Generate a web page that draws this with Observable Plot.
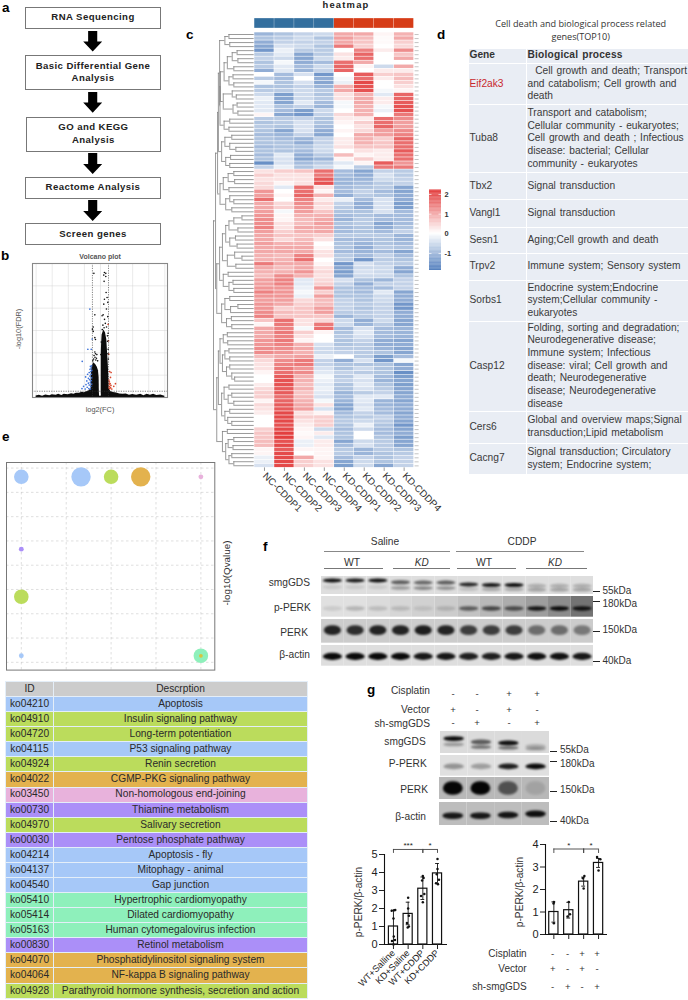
<!DOCTYPE html>
<html><head><meta charset="utf-8">
<script src="https://cdn.jsdelivr.net/npm/d3@7"></script>
<script src="https://cdn.jsdelivr.net/npm/@observablehq/plot@0.6"></script>
<style>
html,body{margin:0;padding:0;background:#fff}
#page{position:relative;width:688px;height:1000px;overflow:hidden;font-family:"Liberation Sans",Arial,sans-serif;color:#222}
#page>*{position:absolute}
.lbl{white-space:nowrap;line-height:1}
.box{box-sizing:border-box;border:1px solid #777;background:#fff;display:flex;align-items:center;justify-content:center;text-align:center;font-weight:bold;font-size:9.6px;line-height:12.7px;letter-spacing:.42px;color:#222}
.arrow{width:19px;height:21px;background:#000;clip-path:polygon(26% 0,74% 0,74% 52%,100% 52%,50% 100%,0 52%,26% 52%)}
table{border-collapse:collapse;table-layout:fixed}
#tabE td,#tabE th{padding:0;height:15.08px;font-size:10.2px;font-weight:normal;text-align:center;white-space:nowrap;border:1px solid #e4eef8;line-height:1;color:#2a2a2a;box-sizing:border-box}
#tabD td,#tabD th{padding:0 0 0 .5px;font-size:10.2px;line-height:12.7px;text-align:left;background:#e9edf4;border:1px solid #fff;word-spacing:1px;color:#3a3a3a;box-sizing:border-box}
svg.plot,svg[class^="plot"]{background:transparent!important;overflow:visible}
</style></head><body><div id="page"></div>
<script>
// ---------- panel a ----------
const flowSteps = ["RNA Sequencing","Basic Differential Gene<br>Analysis","GO and KEGG<br>Analysis","Reactome Analysis","Screen genes"];

// ---------- panel b : volcano ----------
const volcanoBase = [[-8,.35],[-7.6,.5],[-7.2,.3],[-6.8,.55],[-6.3,.4],[-6,.6],[-5.5,.5],[-5.2,.7],[-4.8,.45],[-4.5,.75],[-4,.6],[-3.6,.85],[-3.3,.7],[-3,.95],[-2.6,.95],[-2.3,1.15],[-2,1.05],[-1.7,1.3],[-1.4,1.5],[-1.2,1.9],[-.2,1],[-.1,.35],[0,.2],[.1,.35],[.2,1],[1.1,1.9],[1.3,1.3],[1.6,1.1],[2,1],[2.4,.8],[2.8,.7],[3.2,.8],[3.6,.5],[4,.65],[4.5,.5],[5,.7],[5.4,.4],[5.8,.7],[6.2,.5],[6.6,.7],[7,.45],[7.5,.55],[8,.3]];
const volcanoLeftLobe = [[-1.17,1.5],[-1.15,5],[-1.05,6.8],[-.85,7.8],[-.6,7.4],[-.4,6.8],[-.25,6],[-.17,4.5],[-.14,1]];
const volcanoRightLobe = [[.1,1],[.1,9],[.14,12],[.2,14],[.41,15.1],[.62,14.5],[.78,13],[.88,10],[.98,7],[1.05,4],[1.08,1.5]];
const volcanoBlack = [[-.82,27.8],[.49,28],[.66,27.8],[.41,27.4],[.66,27.1],[.45,26],[.7,23.5],[.82,22.4],[.49,22],[.91,21.3],[.41,20.9],[.74,19.8],[.33,18.5],[.91,18.1],[.2,18.3],[.5,17.5],[.6,16.6],[.3,16.2],[.75,15.8],[.45,15.6],[-.9,15.8],[-1,15.3],[-.9,14.8],[-.7,13.4],[-.62,13],[-.7,18.5],[-.7,10.2],[-.62,9.8],[-.8,9.4],[-.45,9.6],[-.68,9],[-.5,8.8],[-.85,8.6],[-.35,8.2],[-.58,8.4],[-.95,8.2],[.88,12.6],[.95,10.8],[.92,9.8],[.98,8.6],[.86,13.8],[.22,15.2],[.95,14.4],[.1,12.4],[.05,9.6]];
const volcanoBlue = [[-1.32,19.8],[-1.03,13.1],[-1.57,10.8],[-1.15,10.8],[-2.27,8.1],[-1.25,7],[-1.1,7.1],[-1.18,6.6],[-1.3,6.3],[-1.08,6.1],[-1.2,5.8],[-1.4,5.6],[-1.85,4.6],[-1.6,5.2],[-1.15,5.2],[-1.3,4.8],[-1.5,4.3],[-1.1,4.4],[-1.35,4],[-1.7,3.7],[-1.15,3.8],[-1.25,3.4],[-1.5,3.2],[-1.1,3],[-1.8,2.9],[-1.4,2.8],[-2.1,2.5],[-1.2,2.5],[-1.65,2.3],[-2.3,2],[-1.45,2],[-1.9,1.9],[-1.25,1.9]];
const volcanoRed = [[.95,16.4],[1,12.7],[1.03,9.7],[1.15,5.8],[1.32,5.6],[1.24,4.5],[1.86,3.1],[1.65,2.5],[1.05,3.9],[1.1,3.5],[1.2,3.1],[1.08,3],[1.3,2.7],[1.1,2.5],[1.25,2.2],[1.15,2],[1.05,2.1],[1.4,1.9]];

// ---------- panel c : heatmap ----------
const heatColumns = ["NC-CDDP1","NC-CDDP2","NC-CDDP3","NC-CDDP4","KD-CDDP1","KD-CDDP2","KD-CDDP3","KD-CDDP4"];
const heatRows = [
[-1,-.8,-.6,-.5,.9,.9,.1,.8],[-.8,-.7,-.5,-.8,1,.7,.05,.9],[-1.1,-.6,-.6,-.6,.9,.6,.05,.5],[-1.2,-.4,-.5,-.8,1.4,.5,0,.4],
[-1.4,-.2,-.7,-.7,0,1.3,.2,1.2],[-.7,-.3,-1.2,-.7,.3,1.6,0,.6],[-.6,-.5,-1.2,-.5,.2,1.5,0,.9],[-.8,-.1,-1.1,-.9,1.5,.9,0,0],
[-.7,-.3,-.9,-.5,1.6,.1,-.5,.9],[-1.1,-.3,-1,-.6,1.6,0,.2,.2],[0,-.9,-.4,-1.4,0,1.7,.5,.6],[-.7,-.9,0,-1.1,-.1,1.5,.2,.7],
[-.1,-.8,-.4,-1.2,-.2,1.9,0,.5],[-.8,-.8,-.6,-1,.8,1.8,0,.3],[-.7,-.7,-.5,-.7,.9,1.8,-.1,.1],[-.5,-1.3,-.5,-.8,.3,.8,-.3,1.6],
[-.2,-1.2,-.5,-.7,.3,.9,.2,1.6],[-.3,-1.2,-.3,-.9,-.1,.9,.2,1.7],[-.3,-.8,-.6,-1,-.1,.8,-.1,1.8],[-.3,-.9,-1.3,-.5,0,.8,-.2,1.8],
[.1,-1.2,-1.4,-.6,.4,.8,0,1.4],[-.7,-.7,-.6,-.8,.2,.2,1.5,1.2],[-.8,-.7,-.4,-.8,.1,.5,1.5,1],[-.7,-.8,-.4,-.9,0,.3,1.6,1],
[-.8,-1.2,-.4,-1.1,.1,.4,1,1.2],[-.9,-1,-.6,-1.2,0,.9,1,1.3],[-.8,-.9,-1,-.6,.2,.8,.5,1.6],[-.8,-.8,-1.1,-.6,.2,.8,.6,1.5],
[-.9,-.8,-.8,-.5,.3,.6,.6,1.5],[-.8,-.8,-.9,-.5,0,.3,.2,1.7],[-.9,-.3,-1.1,-.7,.7,.1,.2,1.5],[-.8,-.4,-1.2,-1,.1,.5,.2,1.5],
[-1.5,-.4,-.9,-.7,-.3,.1,1.7,1.1],[-.6,-.2,-.8,-.5,-.1,-.7,1.4,1.4],[.3,.5,.6,1.5,-.9,-1.2,-.6,-.7],[.5,.3,.3,1.4,-.9,-1.1,-.4,-.7],
[.3,.3,.3,1.7,-1,-1,-.5,-.6],[.4,.1,.3,1.8,-1,-.9,-.7,-.6],[.4,-.3,1.5,.3,-.9,-.8,-.7,-1.2],[1.1,0,1.5,.1,-.9,-.6,-.9,-1.2],
[1,.1,1.6,.8,-1.1,-.7,-.8,-1.1],[1.5,0,1.3,.2,-.2,-.9,-.4,-1.1],[.9,.4,1.2,.4,-.6,-1.1,-.4,-1.3],[.9,.5,1.1,.3,-.7,-1.1,-.4,-1.3],
[1,-.1,1,.6,-.8,-.8,-.4,-.9],[1.1,.1,.8,.8,-.9,-.8,-.9,-.9],[1.2,.1,.7,.9,-1,-.7,-.9,-.9],[1.2,.3,.7,1,-.8,-.7,-1.2,-.9],
[1.3,.3,.9,.9,-.9,-.8,-1.1,-.8],[1,.5,.8,.9,-.9,-.8,-.9,-.6],[.9,.6,.6,.5,-.7,-.7,-.7,-1],[.9,.4,.7,.3,-.9,-.9,-.8,-1],
[1,.8,.8,0,-.8,-1,-.8,-.9],[.9,.9,.9,.1,-.8,-1.1,-.7,-.8],[.9,.9,.9,.3,-.9,-1,-.9,-1.2],[.8,.7,1.3,.3,-.7,-.9,-.6,-.9],
[.8,.8,1.5,0,-.7,-1.4,-.7,-.8],[1.4,.9,.9,.1,-1.4,-.4,-.6,-.7],[.9,.7,.9,.3,-1.2,-.5,-.5,-1.1],[.8,.8,1.1,.4,-1.3,-.4,-.5,-1.2],
[.7,1.2,.8,.3,-1.2,-.5,-.5,-.8],[1,1.3,-.3,.4,-.4,-.8,-1,-.6],[1,1.3,-.3,.5,-.6,-1.1,-.6,-.6],[1.1,1.1,-.2,1.1,-.8,-.9,-.9,-.6],
[1.3,1.1,-.1,.5,-.8,-.9,-.3,-1.2],[1.1,1.1,-.2,1,-.8,-.8,-.5,-1.1],[1,1,.4,.7,-.6,-.8,-.5,-1.1],[1.1,.9,.5,.7,-.6,-.7,-.6,-1.4],
[1.1,.5,.6,1,-.6,-.8,-.6,-1.4],[1.2,.7,.6,1,-.7,-.7,-.6,-1.1],[1.3,.6,.6,.6,-1,-.7,-.6,-1.1],[.6,1.5,.3,.4,-.5,-1.1,-.5,-1.2],
[.1,1.4,.3,1.4,-.5,-1,-.7,-1.2],[.9,1.3,-.1,1.5,-.9,-.4,-.9,-1],[.9,1.4,.5,.1,-.8,-.3,-.9,-1],[.9,1.3,.3,0,-.7,-.4,-.9,-1],
[1.1,1.4,.1,0,-.8,-.6,-1.1,-1.2],[1.1,1.3,.8,-.4,-.8,-.7,-1.1,-1.1],[1.2,1.2,.9,-.5,-.7,-.7,-1,-1.2],[1.2,1.1,.8,-.5,-.6,-.7,-.8,-1.2],
[.7,.9,1,-.2,0,-.7,-1.3,-.9],[.4,1.2,1.4,-.6,-1.1,-.4,-1.4,-.1],[.3,1.3,1.4,-.6,-.8,-.8,-.8,-1.2],[.3,1.4,1.1,-.4,-.8,-.5,-.8,-1.1],
[.1,1.5,1.2,-.3,-.6,-.7,-.8,-1.5],[0,1.7,.8,-.1,-.7,-.3,-.9,-1.3],[0,1.8,.8,-.2,-.6,-.4,-1,-1.2],[.2,1.8,.7,-.3,-.8,-.3,-.8,-1.3],
[.4,1.7,.8,-.2,-.8,-.4,-.7,-1.2],[.5,1.7,.6,-.3,-1,-.7,-.6,-1.2],[.5,1.5,.7,-.4,-.9,-.3,-.3,-1.1],[.1,1.6,.8,-.1,-1,-.3,-1,-1.2],
[.4,1.7,.9,.3,-1.2,-.4,-1,-1.1],[.3,1.7,1,-.4,-1.2,-.3,-.9,-1.1],[.2,1.9,.3,.1,-.9,-.6,-.9,-1.2],[0,1.9,.5,.5,-.8,-.7,-.6,-1.1],
[0,1.9,.3,.5,-.7,-.5,-.7,-1.2],[0,1.8,.2,.5,-.8,-.2,-.8,-1.4],[.5,1.9,.1,-.5,-.9,-.5,-.9,-1.2],[.6,2,.05,.2,-.8,0,-.9,-1.1],
[.6,2,.1,-.3,-.8,0,-.8,-1.3],[.7,1.8,-.2,.2,-1.2,-.5,-.7,-1.2],[.7,1.9,-.2,.2,-.9,-.4,-.7,-1.2],[.1,1.7,.1,.1,-.7,-1,-.7,-.8],
[.1,1.9,0,.1,-.7,-1,-.8,-.7],[-.2,1.9,.9,.1,-.9,-.6,-.8,-.6],[-.2,1.9,.5,.3,-1.2,-.5,-.8,-.6],[-.4,1.9,.5,.3,-1.3,-.5,-1.2,-.6]];
// dendrogram: [merge height, left, right]; 0 is a leaf
const rowTree = [1,
 [.92,
  [.78,[.7,[.62,[.5,0,0],[.55,0,0]],[.64,[.52,0,0],[.5,0,0]]],[.66,0,0]],
  [.88,
   [.8,[.72,[.65,[.55,0,0],0],[.6,0,0]],[.74,[.64,[.5,0,0],[.55,0,0]],[.62,0,0]]],
   [.84,[.78,[.68,[.55,[.48,0,0],0],[.6,0,0]],[.72,[.6,0,0],[.62,0,0]]],[.76,[.65,0,0],[.66,0,0]]]]],
 [.95,
  [.92,
   [.8,[.68,[.55,0,0],[.56,0,0]],[.72,[.58,0,[.4,0,0]],[.6,0,0]]],
   [.85,
    [.76,[.62,[.5,0,0],[.52,0,0]],[.64,0,0]],
    [.78,[.66,[.45,0,0],[.48,[.3,0,0],0]],[.7,[.6,[.42,0,0],[.46,0,0]],[.62,[.4,0,0],[.5,0,[.3,0,0]]]]]]],
  [.9,
   [.84,[.7,[.55,0,0],[.6,[.5,0,0],0]],[.76,[.62,0,0],[.64,[.48,0,0],[.5,0,0]]]],
   [.88,
    [.8,[.7,[.6,0,0],[.58,0,0]],[.72,[.6,[.45,0,0],0],[.55,0,0]]],
    [.85,
     [.84,[.74,[.62,0,0],[.6,0,0]],
      [.83,[.76,[.52,[.4,0,0],[.42,0,0]],[.54,[.44,0,0],0]],
       [.74,[.62,[.5,0,0],[.52,0,0]],[.66,[.5,0,0],[.54,[.4,0,0],[.42,0,0]]]]]],
     [.72,[.6,0,0],[.62,0,0]]]]]]];

// ---------- panel d ----------
const geneNames = ["Eif2ak3","Tuba8","Tbx2","Vangl1","Sesn1","Trpv2","Sorbs1","Casp12","Cers6","Cacng7"];
const geneProcesses = [
"&nbsp;&nbsp;Cell growth and death; Transport<br>and catabolism; Cell growth and<br>death",
"Transport and catabolism;<br>Cellular community - eukaryotes;<br>Cell growth and death ; Infectious<br>disease: bacterial; Cellular<br>community - eukaryotes",
"Signal transduction","Signal transduction","Aging;Cell growth and death","Immune system; Sensory system",
"Endocrine system;Endocrine<br>system;Cellular community -<br>eukaryotes",
"Folding, sorting and degradation;<br>Neurodegenerative disease;<br>Immune system; Infectious<br>disease: viral; Cell growth and<br>death; Neurodegenerative<br>disease; Neurodegenerative<br>disease",
"Global and overview maps;Signal<br>transduction;Lipid metabolism",
"Signal transduction; Circulatory<br>system; Endocrine system;"];

// ---------- panel e ----------
const bubbleX = [0,1.33,2,2.66,4,0,0,0,4,4];
const bubbleY = [7.64,7.64,7.64,7.64,7.64,4.66,2.7,.27,.27,.27];
const bubbleCount = [9,16,9,16,1,1,9,1,9,.6];
const bubbleClass = ["cell","cell","env","org","gen","met","env","cell","dis","org2"];
const classColors = {cell:"#a6c8f8",env:"#bbdc5c",org:"#e3b24e",org2:"#d8c43e",gen:"#e8b2dc",met:"#ab8ff8",dis:"#8ef0bb"};
const pathwayIds = ["ko04210","ko04910","ko04720","ko04115","ko04924","ko04022","ko03450","ko00730","ko04970","ko00030","ko04214","ko04137","ko04540","ko05410","ko05414","ko05163","ko00830","ko04070","ko04064","ko04928"];
const pathwayNames = ["Apoptosis","Insulin signaling pathway","Long-term potentiation","P53 signaling pathway","Renin secretion","CGMP-PKG signaling pathway","Non-homologous end-joining","Thiamine metabolism","Salivary secretion","Pentose phosphate pathway","Apoptosis - fly","Mitophagy - animal","Gap junction","Hypertrophic cardiomyopathy","Dilated cardiomyopathy","Human cytomegalovirus infection","Retinol metabolism","Phosphatidylinositol signaling system","NF-kappa B signaling pathway","Parathyroid hormone synthesis, secretion and action"];
const pathwayClass = ["cell","env","env","cell","env","org","gen","met","env","met","cell","cell","cell","dis","dis","dis","met","org","org","env"];

// ---------- panels f, g : blot band strengths ----------
const fSmg1 = [.95,.9,.95,.6,.55,.6,.85,.9,.95,.22,.22,.22];
const fSmg2 = [.1,.1,.1,.3,.4,.35,.15,.25,.25,.28,.28,.28];
const fPerkP = [.1,.2,.15,.15,.1,.15,.55,.65,.6,.9,.97,.9];
const fPerk = [.85,.8,.85,.85,.88,.85,.72,.72,.72,.48,.48,.42];
const fActin = [.98,.98,.98,.98,.92,.92,.88,.88,.92,.95,.95,.92];
const gSmg1 = [.97,.6,.95,.2];
const gSmg2 = [.3,.5,.5,.28];
const gPerkP = [.35,.3,.88,.97];
const gPerk = [1,1,.58,.12];
const gActin = [.9,.9,.92,.95];

// ---------- panel g : bars ----------
const bar1Names = ["WT+Salline","KD+Saline","WT+CDDP","KD+CDDP"];
const bar1Means = [1,1.7,3.1,3.95];
const bar1Low = [0,1.1,2.5,3.4];
const bar1High = [1.9,2.35,3.75,4.5];
const bar1Dots = [[0,.05,1.9],[0,-.12,1.88],[0,.12,1.92],[0,0,1.45],[0,.02,.45],[0,-.1,.2],[0,.1,.25],[0,0,0],[1,0,2.6],[1,0,2],[1,.05,1.6],[1,-.08,1.2],[1,.05,1],[1,-.03,.95],[2,0,3.8],[2,.05,3.7],[2,-.05,3.55],[2,.1,2.8],[2,-.12,2.7],[2,0,2.35],[3,0,4.75],[3,0,4.2],[3,-.05,3.9],[3,.1,3.6],[3,-.1,3.4],[3,.03,3.35]];
const bar2Means = [1,1.08,2.35,3.18];
const bar2Low = [.55,.73,2.15,2.98];
const bar2High = [1.45,1.43,2.55,3.38];
const bar2Dots = [[0,0,1.45],[0,-.02,1.38],[0,0,.5],[1,0,1.45],[1,.08,.9],[1,-.08,.8],[2,.05,2.6],[2,-.05,2.5],[2,0,2.05],[3,-.1,3.45],[3,.12,3.35],[3,0,2.85]];

const page = document.getElementById("page");
const place = (el,x,y)=>{el.style.left=x+"px";el.style.top=y+"px";page.appendChild(el);return el};
function label(t,x,y,o={}){
  const d=document.createElement("div");d.className="lbl";d.innerHTML=t;
  const a=o.a||"start";
  d.style.transform=`translate(${a=="start"?0:a=="end"?-100:-50}%,-50%)`+(o.rot?` rotate(${o.rot}deg)`:"");
  d.style.fontSize=(o.s||10)+"px";if(o.w)d.style.fontWeight=o.w;if(o.i)d.style.fontStyle="italic";
  d.style.color=o.c||"#333";if(o.f)d.style.fontFamily=o.f;if(o.ls)d.style.letterSpacing=o.ls+"px";
  return place(d,x,y);
}
function line(x1,x2,y,c="#777",w=.9){const d=document.createElement("div");d.style.cssText=`width:${x2-x1}px;height:${w}px;background:${c}`;return place(d,x1,y-w/2)}
const sans='"Liberation Sans",Arial,sans-serif';

// panel letters
[["a",2,8],["b",1,256],["c",186,35],["d",437,35],["e",2,437],["f",263,547],["g",367,690]].forEach(([t,x,y])=>label(t,x,y,{s:13.5,w:"bold",c:"#000"}));

// a flow
const boxes=[[25,7,136,21.6],[25,55,136,34.6],[25.6,116.5,135.6,35.4],[25,176.5,136,22.4],[25,223.3,136,22.2]];
flowSteps.forEach((t,i)=>{const d=document.createElement("div");d.className="box";d.innerHTML=t;const b=boxes[i];d.style.width=b[2]+"px";d.style.height=b[3]+"px";place(d,b[0],b[1])});
[30.5,91.7,153,200].forEach(y=>{const d=document.createElement("div");d.className="arrow";place(d,83.2,y)});

// b volcano
label("Volcano plot",100,255.5,{a:"middle",s:7,w:"bold",c:"#555"});
label("-log10(FDR)",19,329,{a:"middle",s:7.4,c:"#555",rot:-90});
label("log2(FC)",100,410,{a:"middle",s:7.4,c:"#555"});
const toPts=a=>a.map(([x,y])=>({x,y}));
place(Plot.plot({width:135,height:134,marginTop:0,marginBottom:0,marginLeft:0,marginRight:0,
  x:{domain:[-8.45,8.33],axis:null},y:{domain:[0,30],axis:null},
  marks:[
   Plot.gridX(d3.range(-8,9,2),{stroke:"#ccc",strokeOpacity:.7,strokeWidth:.6}),
   Plot.gridY(d3.range(0,31,5),{stroke:"#ccc",strokeOpacity:.7,strokeWidth:.6}),
   Plot.areaY(toPts(volcanoBase),{x:"x",y:"y",fill:"#0c0c0c"}),
   Plot.areaY(toPts(volcanoLeftLobe),{x:"x",y:"y",fill:"#0c0c0c"}),
   Plot.areaY(toPts(volcanoRightLobe),{x:"x",y:"y",fill:"#0c0c0c"}),
   Plot.dot(toPts(volcanoBlue),{x:"x",y:"y",r:.85,fill:"#3f73d8"}),
   Plot.dot(toPts(volcanoRed),{x:"x",y:"y",r:.85,fill:"#d8452a"}),
   Plot.dot(toPts(volcanoBlack),{x:"x",y:"y",r:.8,fill:"#0c0c0c"}),
   Plot.ruleX([-1,1],{stroke:"#333",strokeWidth:.6,strokeDasharray:"1.2 1.2"}),
   Plot.ruleY([1.4],{stroke:"#333",strokeWidth:.6,strokeDasharray:"1.2 1.2"}),
   Plot.frame({stroke:"#888",strokeWidth:1.1})
  ]}),32,262.7);

// c heatmap
const heatTidy=heatRows.flatMap((r,i)=>r.map((v,j)=>({row:i,col:heatColumns[j],v})));
const heatColor={type:"linear",domain:[-1.86,0,2.2],range:["#4575b8","#ffffff","#e02c2c"]};
label("heatmap",346,5,{a:"middle",s:9.4,w:"bold",c:"#222",ls:1.2});
place(Plot.plot({width:159.6,height:13,margin:0,axis:null,x:{domain:heatColumns,round:false,padding:0,axis:null},
  color:{domain:["NC","KD"],range:["#336f9e","#d63c17"]},
  marks:[Plot.cell(heatColumns,{x:d=>d,y:()=>"a",fill:d=>d.slice(0,2),inset:.15})]}),253.7,15.7);
place(Plot.plot({width:172,height:500,marginLeft:0,marginTop:0,marginRight:12.4,marginBottom:64.6,
  x:{domain:heatColumns,padding:0,round:false,label:null},
  y:{domain:d3.range(heatRows.length),padding:0,round:false,label:null},
  color:heatColor,
  style:{fontFamily:sans,fontSize:"9.8px",color:"#333"},
  marks:[
   Plot.cell(heatTidy,{x:"col",y:"row",fill:"v",insetTop:.3,insetBottom:.3,insetLeft:.25,insetRight:.25}),
   Plot.axisX({anchor:"bottom",tickRotate:45,tickSize:3.5,stroke:"#999",tickPadding:3,label:null,fill:"#333"}),
   Plot.axisY({anchor:"right",tickFormat:()=>"",tickSize:4,stroke:"#aaa",strokeWidth:.7,label:null})
  ]}),253.7,32.3);
// dendrogram
const dSeg=[];let leaf=0;
(function walk(n){ if(n===0){const y=leaf+.5;leaf++;return {h:0,y}}
  const a=walk(n[1]),b=walk(n[2]);const h=n[0];
  dSeg.push({x:h,y1:a.y,y2:b.y},{x1:a.h,x2:h,y:a.y},{x1:b.h,x2:h,y:b.y});
  return {h,y:(a.y+b.y)/2};})(rowTree);
place(Plot.plot({width:40.7,height:435.4,margin:0,x:{domain:[1,0],axis:null},y:{domain:[0,heatRows.length],axis:null},
  marks:[
   Plot.ruleX(dSeg.filter(d=>d.y1!==undefined),{x:"x",y1:"y1",y2:"y2",stroke:"#808080",strokeWidth:.8}),
   Plot.ruleY(dSeg.filter(d=>d.y!==undefined),{y:"y",x1:"x1",x2:"x2",stroke:"#808080",strokeWidth:.8})
  ]}),213,32.3);
// color key
const legendSteps=d3.range(-1.86,2.2,.04);
place(Plot.plot({width:40,height:80,marginTop:0,marginBottom:0,marginLeft:0,marginRight:28,
  y:{domain:[-1.86,2.2],label:null},x:{axis:null,domain:[0,1]},color:heatColor,
  style:{fontFamily:sans,fontSize:"7.4px",fontWeight:"bold",color:"#333"},
  marks:[
   Plot.rect(legendSteps,{x1:0,x2:1,y1:d=>d,y2:d=>d+.045,fill:d=>d}),
   Plot.tickY([-1,0,1,2],{stroke:"#fff",strokeWidth:.7,strokeDasharray:"2.5 7 2.5"}),
   Plot.axisY([-1,0,1,2],{anchor:"right",tickSize:0,tickPadding:3,label:null,tickFormat:d=>d})
  ]}),429,190);

// d table
label("Cell death and biological process related",580.7,23.5,{a:"middle",s:9.1,f:'"Open Sans",sans-serif',c:"#333"});
label("genes(TOP10)",580.7,36.5,{a:"middle",s:9.1,f:'"Open Sans",sans-serif',c:"#333"});
const dH=[41,68,27,27.5,26,27,41,88.5,32,31];
const tD=document.createElement("table");tD.id="tabD";tD.style.width="221px";
tD.innerHTML=`<colgroup><col style="width:58px"><col style="width:163px"></colgroup><tr style="height:15.6px"><th style="font-weight:bold;color:#333">Gene</th><th style="font-weight:bold;letter-spacing:.2px;color:#333">Biological&nbsp;process</th></tr>`+
 geneNames.map((g,i)=>`<tr style="height:${dH[i]}px"><td style="${i==0?"color:#c8272c":""}">${g}</td><td>${geneProcesses[i]}</td></tr>`).join("");
place(tD,468,47.5);

// e bubbles
place(Plot.plot({width:208.3,height:207.6,margin:0,
  x:{domain:[-.33,4.31],axis:null},y:{domain:[-.32,8.23],axis:null},
  r:{type:"sqrt",domain:[0,16],range:[0,9.7]},
  color:{domain:Object.keys(classColors),range:Object.values(classColors)},
  marks:[
   Plot.gridX([0,1,2,3,4],{stroke:"#bbb",strokeOpacity:.8,strokeWidth:.6,strokeDasharray:"2.5 2.5"}),
   Plot.gridY(d3.range(0,9),{stroke:"#bbb",strokeOpacity:.8,strokeWidth:.6,strokeDasharray:"2.5 2.5"}),
   Plot.dot(bubbleX.map((x,i)=>i),{x:i=>bubbleX[i],y:i=>bubbleY[i],r:i=>bubbleCount[i],fill:i=>bubbleClass[i]}),
   Plot.frame({stroke:"#777",strokeWidth:1})
  ]}),5.7,461.7);
label("-log10(Qvalue)",227,572.7,{a:"middle",s:9.8,c:"#333",rot:-90});

// e table
const tE=document.createElement("table");tE.id="tabE";tE.style.width="302px";
tE.innerHTML=`<colgroup><col style="width:48px"><col style="width:254px"></colgroup><tr style="background:#cccccc"><th>ID</th><th>Descrption</th></tr>`+
 pathwayIds.map((id,i)=>`<tr style="background:${classColors[pathwayClass[i]]}"><td>${id}</td><td>${pathwayNames[i]}</td></tr>`).join("");
place(tE,5,681);

// blots
function blot(x,y,w,h,bg,bands,bandW){
  const n=bands[0].v.length;
  const lanes=d3.range(n);
  const shade=v=>d3.rgb(v*255,v*255,v*255).formatHex();
  const marks=[Plot.rect(lanes,{x1:i=>i,x2:i=>i+1,y1:0,y2:1,fill:i=>shade(Array.isArray(bg)?bg[i]:bg)})];
  for(const b of bands){
    marks.push(Plot.rect(lanes,{x1:i=>i+.5-bandW/2,x2:i=>i+.5+bandW/2,
      y1:i=>b.c+(b.shift?b.shift[i]:0)-b.t/2,y2:i=>b.c+(b.shift?b.shift[i]:0)+b.t/2,
      fill:"#050505",fillOpacity:i=>b.v[i],rx:9,ry:7,imageFilter:"blur(.9px)"}));
  }
  const p=Plot.plot({width:w,height:h,margin:0,x:{domain:[0,n],axis:null},y:{domain:[1,0],axis:null},marks});
  p.style.overflow="hidden";
  place(p,x,y);
}
const fLaneShift=[0,0,0,.1,.12,.12,.22,.25,.25,.3,.3,.3];
blot(320.7,575.7,272.5,18.3,.87,[{c:.24,t:.22,v:fSmg1,shift:fLaneShift},{c:.6,t:.2,v:fSmg2,shift:fLaneShift.map(d=>d/2)}],.85);
blot(320.7,596,272.5,20.7,[.88,.88,.86,.84,.82,.8,.76,.72,.68,.62,.55,.45],[{c:.6,t:.22,v:fPerkP}],.85);
blot(320.7,619,272.5,23.7,.8,[{c:.47,t:.42,v:fPerk}],.75);
blot(320.7,645.3,272.5,20.7,.87,[{c:.55,t:.34,v:fActin}],.85);
blot(440,731,109.3,22.3,.86,[{c:.34,t:.22,v:gSmg1,shift:[0,.15,.2,.35]},{c:.6,t:.16,v:gSmg2,shift:[0,.12,.15,.2]}],.75);
blot(440,755.3,109.3,20.7,.88,[{c:.55,t:.27,v:gPerkP}],.75);
blot(439,777.3,110.3,22,.72,[{c:.5,t:.62,v:gPerk}],.72);
blot(439,801.7,110.3,23.6,.74,[{c:.58,t:.28,v:gActin,shift:[0,.0,-.03,-.08]}],.75);

// f labels
label("Saline",385,542,{a:"middle",s:10.2});label("CDDP",522,542,{a:"middle",s:10.2});
line(324,450,551.7,"#888");line(455.7,584,551.7,"#888");
label("WT",352,562.7,{a:"middle",s:10.4});label("KD",421.7,563,{a:"middle",s:10,i:1});label("WT",484,562.7,{a:"middle",s:10.4});label("KD",555,563,{a:"middle",s:10,i:1});
line(324,382.7,568.7,"#777");line(393.3,450,568.7,"#777");line(456.7,516,568.7,"#777");line(526,586.7,568.7,"#777");
[["smgGDS",310,583],["p-PERK",310.7,608],["PERK",308,633],["β-actin",310,655]].forEach(([t,x,y])=>label(t,x,y,{a:"end",s:10.2}));
[[591,"55kDa",591],[601,"180kDa",604],[631.7,"150kDa",630],[661,"40kDa",661]].forEach(([ty,t,y])=>{line(593,600,ty,"#222",1);label(t,602.5,y,{s:10})});

// g labels
[["Cisplatin",430,691],["Vector",430,710],["sh-smgGDS",430,724]].forEach(([t,x,y])=>label(t,x,y,{a:"end",s:10.2}));
[[694,"--++"],[710,"+-+-"],[723,"-+-+"]].forEach(([y,s])=>[...s].forEach((c,i)=>label(c,[453,477,509,537][i],y,{a:"middle",s:9.6})));
[["smgGDS",425.7,742],["P-PERK",426.7,764],["PERK",428,790],["β-actin",426,817]].forEach(([t,x,y])=>label(t,x,y,{a:"end",s:10.2}));
[[751,750,"55kDa"],[761.7,764,"180kDa"],[791.7,790,"150kDa"],[821,821,"40kDa"]].forEach(([ty,y,t])=>{line(550,556.5,ty,"#222",1);label(t,560,y,{s:10})});
[["Cisplatin",526.7,954,"--++"],["Vector",526.7,969,"+-+-"],["sh-smgGDS",526.7,986.7,"-+-+"]].forEach(([t,x,y,s])=>{label(t,x,y,{a:"end",s:10});[...s].forEach((c,i)=>label(c,[552.7,567.7,582,597][i],y,{a:"middle",s:9.6}))});

// g bars
function bars(o){
  const idx=d3.range(4);
  const marks=[
    Plot.rect(idx,{x1:i=>i-.31,x2:i=>i+.31,y1:0,y2:i=>o.means[i],fill:"#fff",stroke:"#111",strokeWidth:1.2}),
    Plot.ruleX(idx,{x:i=>i,y1:i=>o.low[i],y2:i=>o.high[i],stroke:"#111",strokeWidth:.9}),
    Plot.ruleY(idx,{y:i=>o.low[i],x1:i=>i-.13,x2:i=>i+.13,stroke:"#111",strokeWidth:.9}),
    Plot.ruleY(idx,{y:i=>o.high[i],x1:i=>i-.13,x2:i=>i+.13,stroke:"#111",strokeWidth:.9}),
    Plot.dot(o.dots,{x:d=>d[0]+d[1],y:d=>d[2],r:1.25,fill:"#111"}),
    Plot.ruleY([0],{stroke:"#111",strokeWidth:1.1}),
    Plot.ruleX([o.xd[0]],{y1:0,y2:o.yMax,stroke:"#111",strokeWidth:1.1}),
    Plot.axisY({ticks:d3.range(0,o.yMax+1),tickSize:5,tickPadding:2,label:null,tickFormat:d=>d,fontSize:11}),
    o.xLabels?Plot.axisX({ticks:idx,tickFormat:i=>o.xLabels[i],tickRotate:-45,tickSize:5,tickPadding:2,label:null,fontSize:9.2,anchor:"bottom"}):Plot.axisX({ticks:idx,tickFormat:()=>"",tickSize:5,label:null,anchor:"bottom"})
  ];
  for(const b of o.brackets){
    marks.push(Plot.ruleY([b.y],{x1:b.a,x2:b.b,stroke:"#444",strokeWidth:.9}));
    marks.push(Plot.ruleX([b.a,b.b],{x:d=>d,y1:b.y-o.drop,y2:b.y,stroke:"#444",strokeWidth:.9}));
    marks.push(Plot.text([b.t],{x:()=>(b.a+b.b)/2,y:()=>b.y,text:d=>d,dy:-4,fontSize:8,fill:"#222"}));
  }
  place(Plot.plot({width:o.w,height:o.h,marginLeft:o.ml,marginRight:o.mr,marginTop:o.mt,marginBottom:o.mb,
    x:{domain:o.xd,label:null},y:{domain:[0,o.yMax],label:null},style:{fontFamily:sans,color:"#222"},marks}),o.x,o.y);
  label("p-PERK/β-actin",o.tx,o.ty,{a:"middle",s:10.2,rot:-90,c:"#333"});
}
bars({x:343.7,y:829,w:113,h:171,ml:40,mr:10,mt:25,mb:56,xd:[-.61,3.68],yMax:5,means:bar1Means,low:bar1Low,high:bar1High,dots:bar1Dots,xLabels:bar1Names,drop:.22,
  brackets:[{a:0,b:2,y:5.28,t:"***"},{a:2,b:3,y:5.28,t:"*"}],tx:359,ty:901.7});
bars({x:505,y:819.3,w:112,h:140,ml:40,mr:10,mt:25,mb:25,xd:[-.56,3.6],yMax:4,means:bar2Means,low:bar2Low,high:bar2High,dots:bar2Dots,drop:.2,
  brackets:[{a:0,b:2,y:3.8,t:"*"},{a:2,b:3,y:3.8,t:"*"}],tx:520,ty:891.7});
</script></body></html>
